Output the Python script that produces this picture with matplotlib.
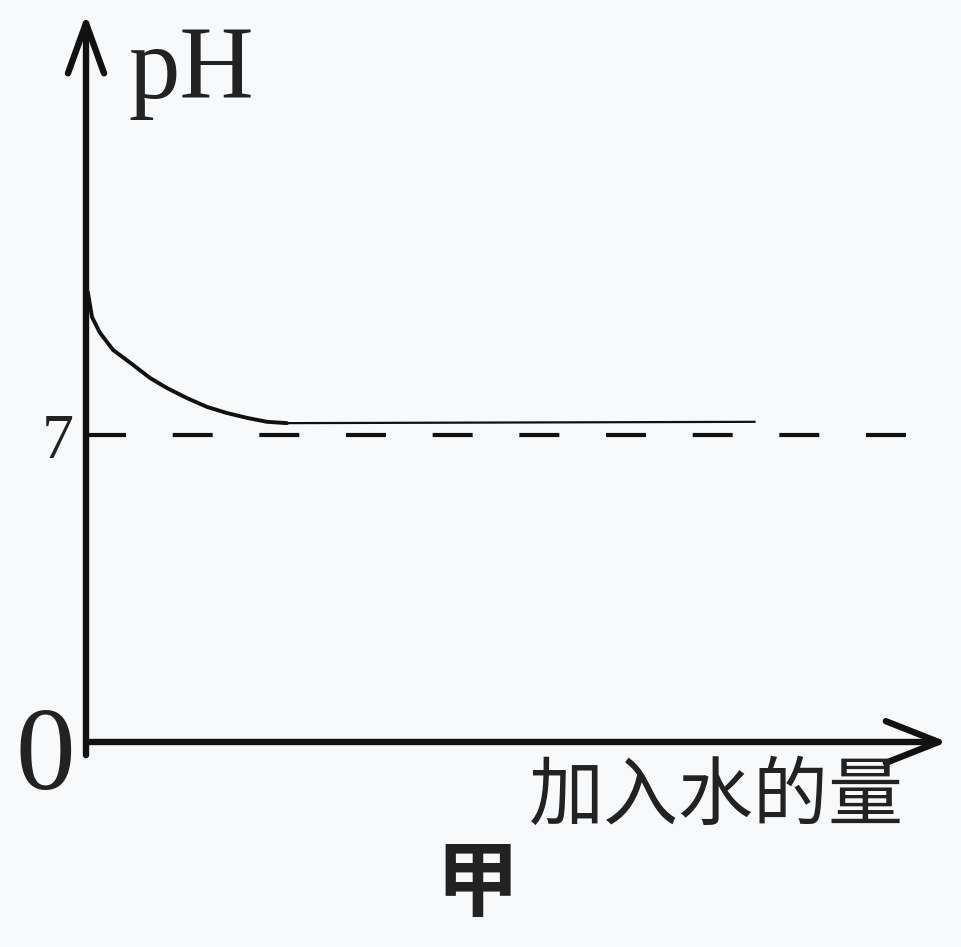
import matplotlib as mpl
mpl.use('Agg')
import matplotlib.pyplot as plt

# ---- data (pH vs amount of water added) ----
water = [0.0, 0.023, 0.07, 0.163, 0.315, 0.548, 0.747, 0.945, 1.179,
         1.412, 1.645, 1.879, 2.112, 2.345]
ph = [10.35, 10.24, 9.69, 9.33, 8.94, 8.60, 8.30, 8.07, 7.84,
      7.64, 7.50, 7.39, 7.30, 7.27]
flat_x = [2.345, 7.8]
flat_ph = [7.27, 7.30]
neutral_ph = 7
xlabel = '加入水的量'
ylabel = 'pH'
caption = '甲'

# ---- figure: axes fill the whole canvas, data units scaled to pixels ----
W, H = 961, 947
fig = plt.figure(figsize=(W / 100, H / 100), dpi=100)
fig.patch.set_facecolor('#f8f9fb')
ax = fig.add_axes([0, 0, 1, 1])
ax.set_facecolor('#f8f9fb')
ax.axis('off')

ox, oy = 86, 742          # pixel position of origin
sx, sy = 85.7, 43.86      # pixels per data unit
ax.set_xlim(-ox / sx, (W - ox) / sx)
ax.set_ylim(-(H - oy) / sy, oy / sy)

ink = '#111111'
txt = '#222222'

# axes with arrows
ax.annotate('', xy=(0, 16.6), xytext=(0, -0.3),
            arrowprops=dict(arrowstyle='->,head_length=3.6,head_width=1.3',
                            lw=4.6, color=ink, shrinkA=0, shrinkB=0))
ax.annotate('', xy=(10.05, 0), xytext=(0, 0),
            arrowprops=dict(arrowstyle='->,head_length=3.8,head_width=1.5',
                            lw=4.6, color=ink, shrinkA=0, shrinkB=0))

# neutral line
ax.plot([0.0, 9.62], [neutral_ph, neutral_ph], color=ink, lw=3.0,
        dashes=(9.6, 11.2), solid_capstyle='butt', dash_capstyle='butt')

# curve
ax.plot(water, ph, color=ink, lw=2.8, solid_capstyle='round',
        solid_joinstyle='round')
ax.plot(flat_x, flat_ph, color=ink, lw=1.6)

# labels
ax.text(0.49, 14.68, ylabel, family='Liberation Serif', fontsize=74,
        color=txt, ha='left', va='baseline')
ax.text(-0.48, -0.42, '0', family='Liberation Serif', fontsize=86,
        color=txt, ha='center', va='center')
ax.text(-0.33, 6.82, '7', family='Liberation Serif', fontsize=46,
        color=txt, ha='center', va='center')
ax.text(7.36, -1.25, xlabel, family=['Noto Sans CJK SC', 'DejaVu Sans'],
        fontsize=54, color=txt, ha='center', va='center')
ax.text(4.56, -3.28, caption, family=['Noto Sans CJK SC', 'DejaVu Sans'],
        fontsize=60, fontweight='bold', color=txt,
        ha='center', va='center')

fig.savefig('out.png', dpi=100, facecolor=fig.get_facecolor())
